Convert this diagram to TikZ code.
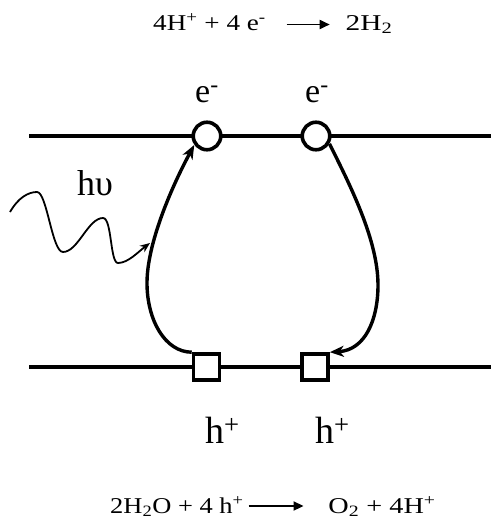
\documentclass[tikz,border=0pt]{standalone}
\usepackage{fontspec}
\usepackage{graphicx}
\setmainfont{Liberation Serif}
\usetikzlibrary{arrows.meta}
\newcommand{\rxarrow}[2]{\tikz[x=1pt,y=1pt,baseline=-#2pt]\draw[line width=1.8pt,-{Triangle[length=10pt,width=9pt]}] (0,0) -- (#1,0);}
\begin{document}
\begin{tikzpicture}[x=1pt,y=-1pt,
  lbl/.style={inner sep=0pt, anchor=base west},
  bandline/.style={line width=3.6pt},
  econ/.style={circle, draw, line width=3.6pt, fill=white, minimum size=27.5pt, inner sep=0pt},
  hbox/.style={rectangle, draw, line width=3.6pt, fill=white, minimum size=26pt, inner sep=0pt},
  flow/.style={line width=3.4pt, -{Stealth[length=14pt,width=11pt,inset=4pt]}},
  photon/.style={line width=1.8pt, -{Stealth[length=10pt,width=8pt]}},
  eqfont/.style={font=\fontsize{22.6}{24}\selectfont},
  bigfont/.style={font=\fontsize{#1}{#1}\selectfont}
]
\useasboundingbox (0,0) rectangle (491,523);
\coordinate (tl) at (29,136); \coordinate (tr) at (491,136);
\coordinate (bl) at (29,367); \coordinate (br) at (491,367);
\draw[bandline] (tl) -- (tr);
\draw[bandline] (bl) -- (br);
\node[econ] (c1) at (207,136) {};
\node[econ] (c2) at (316,136) {};
\node[hbox] (s1) at (206.5,367) {};
\node[hbox] (s2) at (315,367) {};
% electron paths
\draw[flow] (s1.north west) .. controls (165,352) and (147,320) .. (147,283)
  .. controls (147,245) and (170,190) .. (c1.-145);
\draw[flow] (c2.-30) .. controls (350,185) and (378,240) .. (378,285)
  .. controls (378,320) and (365,350) .. (s2.north east);
% photon
\coordinate (p0) at (10,212);
\coordinate (ph) at (150,243);
\draw[photon] (p0) .. controls (18,198) and (28,192) .. (37,192)
  .. controls (47,192) and (52,252) .. (63,252)
  .. controls (78,252) and (88,218) .. (103,218)
  .. controls (112,218) and (110,263) .. (118,263)
  .. controls (128,263) and (138,252) .. (ph);
% labels
\node[lbl, bigfont=36] (hv) at (77,195) {hυ};
\node[lbl, bigfont=34] (e1) at (195,102) {e\textsuperscript{-}};
\node[lbl, bigfont=34] (e2) at (305,102) {e\textsuperscript{-}};
\node[lbl, bigfont=38] (h1) at (205,443) {h\textsuperscript{+}};
\node[lbl, bigfont=38] (h2) at (315,443) {h\textsuperscript{+}};
\node[lbl, eqfont] (eqtop) at (153,30) {\scalebox{1.2}[1]{4H\textsuperscript{+} + 4 e\textsuperscript{-}}\hspace{20pt}\rxarrow{43}{5.5}\hspace{15pt}\scalebox{1.3}[1]{2H\textsubscript{2}}};
\node[lbl, eqfont] (eqbot) at (110,513) {\scalebox{1.17}[1]{2H\textsubscript{2}O + 4 h\textsuperscript{+}}\hspace{4pt}\rxarrow{55}{7}\hspace{24pt}\scalebox{1.25}[1]{O\textsubscript{2} + 4H\textsuperscript{+}}};
\end{tikzpicture}
\end{document}
